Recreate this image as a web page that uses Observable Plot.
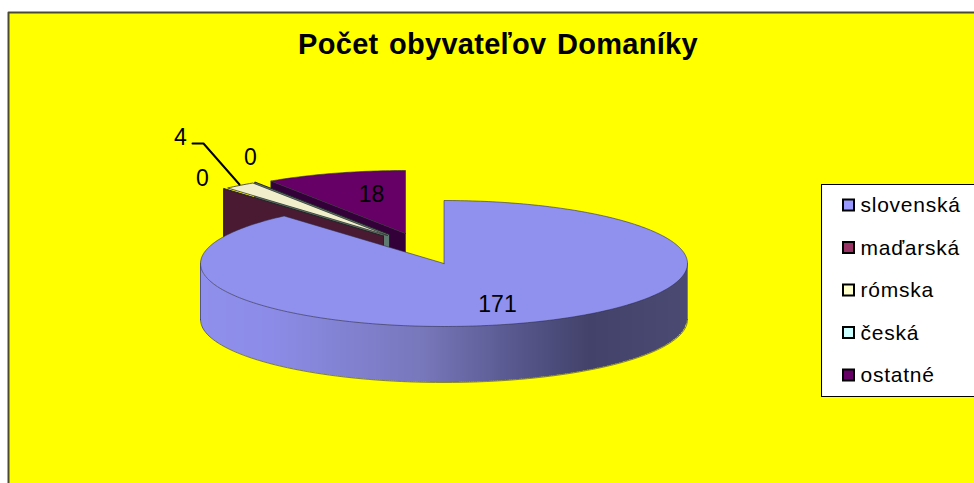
<!DOCTYPE html>
<html><head><meta charset="utf-8">
<script src="https://cdn.jsdelivr.net/npm/d3@7"></script>
<script src="https://cdn.jsdelivr.net/npm/@observablehq/plot@0.6"></script>
<style>html,body{margin:0;padding:0;background:#fff;overflow:hidden}svg{display:block}
.ttl text{letter-spacing:.3px;word-spacing:2px}.leg text{letter-spacing:.75px}</style>
</head><body><div id="chart"></div>
<script>
const categories = ["slovenská","maďarská","rómska","česká","ostatné"];
const values = [171,0,4,0,18];
const topColors = ["#9090ee","#7a2a52","#f0eecb","#b8e6e6","#660066"];
const wallColors = ["#8f8fec","#4a1a33","#5a5a48","#5f7a70","#33003a"];
const legendColors = ["#9999ff","#993366","#ffffcc","#ccffff","#660066"];
const titleText = "Počet obyvateľov Domaníky";
const W = 974, H = 483, RX = 243.5, RY = 63, DEPTH = 56;
const apexes = [[443.5,263],[383,235.5],[387,235],[389,234],[405,233]];
const labelPos = [[497,304],[202,178],[180,137],[250,157],[371,194]];
const total = d3.sum(values);
let acc = 0;
const slices = categories.map((name,i)=>{
  const a0 = acc/total*2*Math.PI; acc += values[i];
  const a1 = acc/total*2*Math.PI;
  return {name,i,a0,a1,cx:apexes[i][0],cy:apexes[i][1],value:values[i]};
});
const pt = (s,a,dy=0)=>({x:s.cx+RX*Math.sin(a),y:s.cy-RY*Math.cos(a)+dy});
const sector = s=>{
  const n = Math.max(2,Math.ceil((s.a1-s.a0)*60));
  return [{x:s.cx,y:s.cy},...d3.range(n+1).map(k=>pt(s,s.a0+(s.a1-s.a0)*k/n)),{x:s.cx,y:s.cy}];
};
const wallEdge = (s,a)=>{
  const p=pt(s,a);
  return [{x:s.cx,y:s.cy},p,{x:p.x,y:p.y+DEPTH},{x:s.cx,y:s.cy+DEPTH},{x:s.cx,y:s.cy}];
};
const outline = {stroke:"#2a2a40",strokeWidth:0.7,strokeOpacity:0.8};
const marks = [];
const poly = (pts,fill,o=outline)=>Plot.line(pts,{x:"x",y:"y",fill,...o});
marks.push(Plot.rect([0],{x1:()=>8,x2:()=>W,y1:()=>12,y2:()=>H,fill:"#ffff00"}));
marks.push(Plot.line([{x:8,y:H},{x:8,y:12},{x:W,y:12}],{x:"x",y:"y",stroke:"#4a4a30",strokeWidth:2}));
const [slo,mad,rom,ces,ost] = slices;
marks.push(poly(wallEdge(ost,ost.a0),wallColors[4]));
marks.push(poly(sector(ost),topColors[4]));
marks.push(poly(wallEdge(ces,ces.a0),wallColors[3],{stroke:"#222",strokeWidth:1}));
marks.push(poly(sector(rom),topColors[2],{stroke:"#333",strokeWidth:0.8}));
marks.push(poly(wallEdge(mad,mad.a0),wallColors[1],{stroke:"#222",strokeWidth:1}));
const shade = d3.scaleLinear().domain([200,270,423,523,590,687]).range(["#8f8fec","#8c8ce8","#7777bb","#55558a","#42426a","#4a4a72"]);
const bands = d3.range(200,687,2);
const wallPts = [];
bands.forEach(b=>{
  [b,Math.min(b+2.6,687)].forEach(x=>{
    const t=(x-slo.cx)/RX, yt=slo.cy+RY*Math.sqrt(Math.max(0,1-t*t));
    wallPts.push({x,y1:yt,y2:yt+DEPTH,band:b,color:shade(b+1)});
  });
});
marks.push(Plot.areaY(wallPts,{x:"x",y1:"y1",y2:"y2",z:"band",fill:"color"}));
const arc = (y0)=>d3.range(0,91).map(k=>{
  const a=Math.PI/2+Math.PI*k/90;
  return {x:slo.cx+RX*Math.sin(a),y:slo.cy-RY*Math.cos(a)+y0};
});
marks.push(Plot.line(arc(DEPTH),{x:"x",y:"y",...outline}));
marks.push(Plot.line([{x:slo.cx-RX,y:slo.cy},{x:slo.cx-RX,y:slo.cy+DEPTH}],{x:"x",y:"y",...outline}));
marks.push(Plot.line([{x:slo.cx+RX,y:slo.cy},{x:slo.cx+RX,y:slo.cy+DEPTH}],{x:"x",y:"y",...outline}));
marks.push(poly(sector(slo),topColors[0]));
marks.push(Plot.line([{x:192,y:143},{x:203,y:143},{x:239,y:184}],{x:"x",y:"y",stroke:"#000",strokeWidth:2}));
marks.push(Plot.text(values.map((v,i)=>({v,x:labelPos[i][0],y:labelPos[i][1]})),{x:"x",y:"y",text:d=>String(d.v),fontSize:23,fill:"#000",textAnchor:"middle",lineAnchor:"middle"}));
marks.push(Plot.text([titleText],{x:()=>497.5,y:()=>44,text:d=>d,fontSize:29,fontWeight:"bold",fill:"#000",textAnchor:"middle",lineAnchor:"middle",className:"ttl"}));
marks.push(Plot.rect([0],{x1:()=>821.5,x2:()=>W+5,y1:()=>184.5,y2:()=>396.5,fill:"#fff",stroke:"#000",strokeWidth:1}));
const legendY = i=>205+i*42.5;
marks.push(Plot.rect(categories,{x1:()=>843,x2:()=>854,y1:(d,i)=>legendY(i)-5.5,y2:(d,i)=>legendY(i)+5.5,fill:(d,i)=>legendColors[i],stroke:"#000",strokeWidth:2}));
marks.push(Plot.text(categories,{x:()=>860,y:(d,i)=>legendY(i),text:d=>d,fontSize:21,fill:"#000",textAnchor:"start",lineAnchor:"middle",className:"leg"}));
const chart = Plot.plot({
  width:W,height:H,margin:0,
  style:{background:"#fff",fontFamily:"'Liberation Sans',Arial,sans-serif",overflow:"hidden"},
  x:{domain:[0,W],range:[0,W],axis:null},
  y:{domain:[0,H],range:[0,H],axis:null},
  marks
});
document.getElementById("chart").append(chart);
</script></body></html>
